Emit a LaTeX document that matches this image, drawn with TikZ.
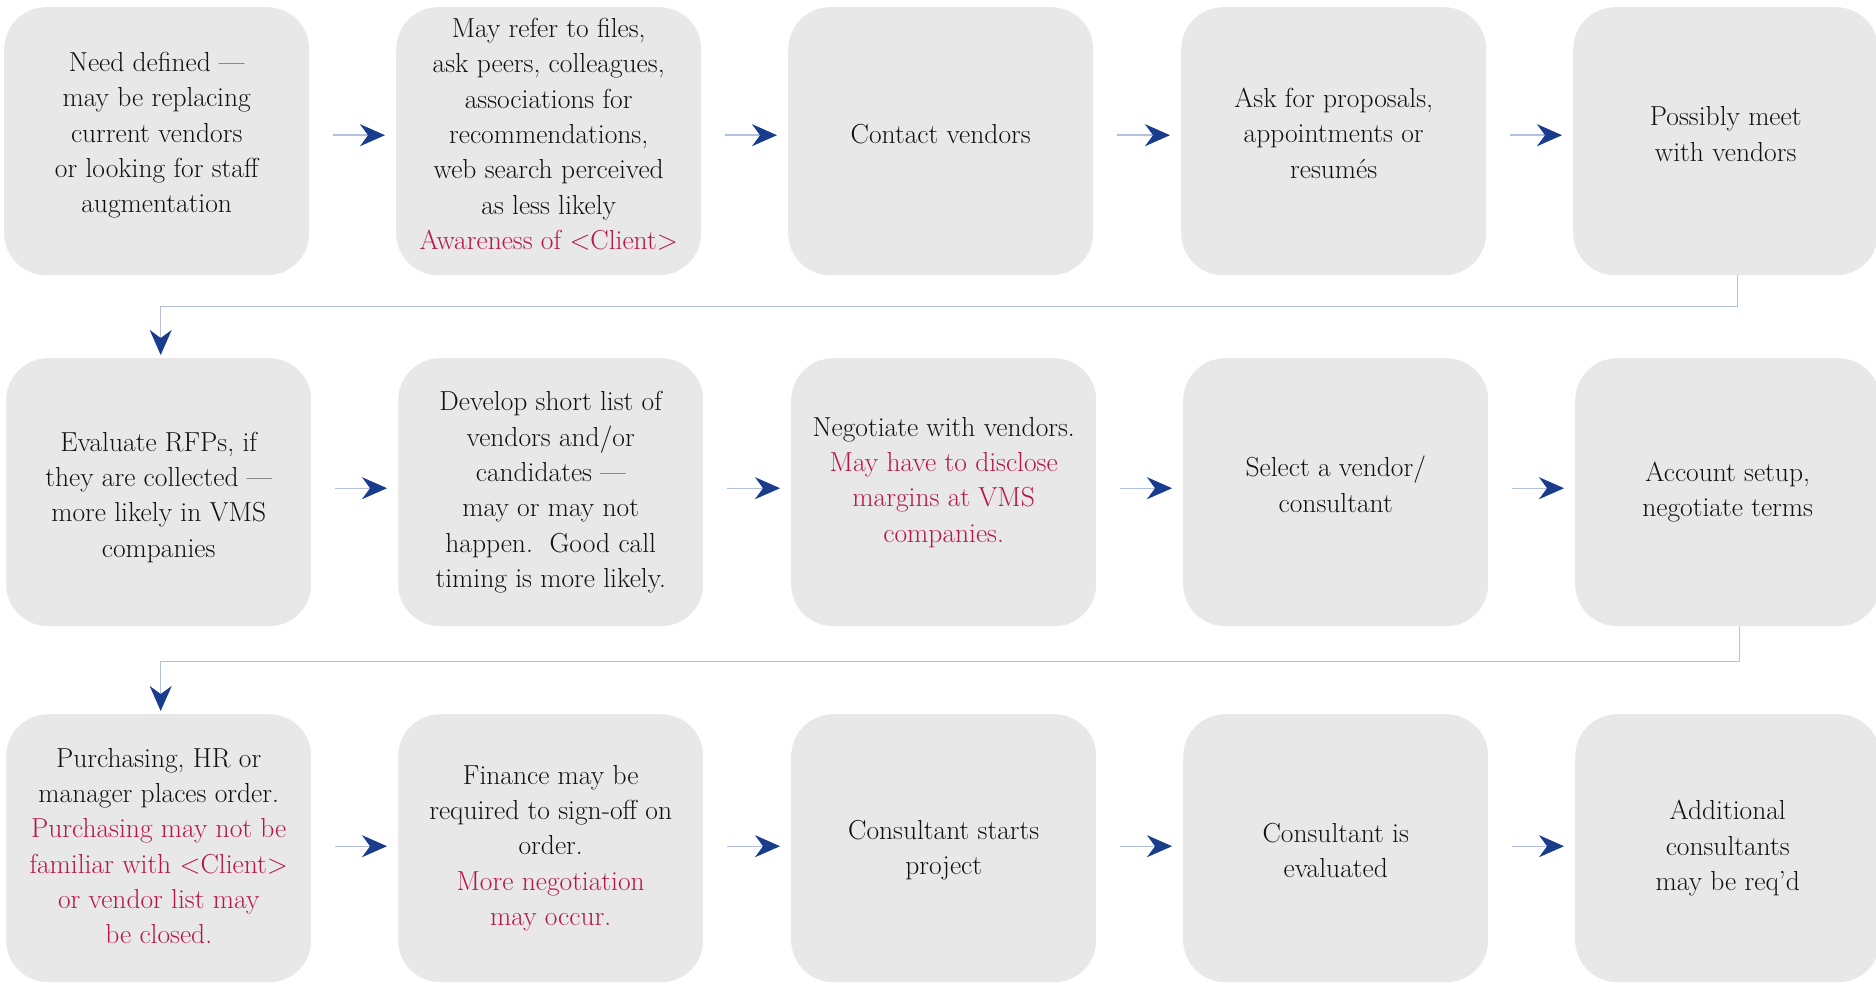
\documentclass[tikz,border=0pt]{standalone}
\usetikzlibrary{arrows.meta}
\definecolor{boxgray}{HTML}{E8E8E8}
\definecolor{accent}{HTML}{B8164A}
\definecolor{linkline}{HTML}{B4C0E0}
\definecolor{tipblue}{HTML}{1A3C8C}
\definecolor{inkdark}{HTML}{111111}
\newcommand\redtxt[1]{\textcolor{accent}{#1}}
\begin{document}
\begin{tikzpicture}[x=1pt,y=-1pt,
  stepbox/.style={rectangle, fill=boxgray, rounded corners=42pt,
    minimum width=305pt, minimum height=268pt, inner sep=0pt,
    anchor=north west},
  steptext/.style={inner sep=0pt, align=center, text=inkdark,
    font=\fontsize{27.5}{35.3}\selectfont},
  flow/.style={draw=linkline, line width=1.4pt,
    -{Stealth[length=25pt,width=22pt,inset=8pt,color=tipblue,fill=tipblue]}}]
\useasboundingbox (0,0) rectangle (1876,987);

% step boxes
\node[stepbox] (n11) at (4,7) {};
\node[stepbox] (n12) at (396,7) {};
\node[stepbox] (n13) at (788,7) {};
\node[stepbox] (n14) at (1181,7) {};
\node[stepbox] (n15) at (1573,7) {};
\node[stepbox] (n21) at (6,358) {};
\node[stepbox] (n22) at (398,358) {};
\node[stepbox] (n23) at (791,358) {};
\node[stepbox] (n24) at (1183,358) {};
\node[stepbox] (n25) at (1575,358) {};
\node[stepbox] (n31) at (6,714) {};
\node[stepbox] (n32) at (398,714) {};
\node[stepbox] (n33) at (791,714) {};
\node[stepbox] (n34) at (1183,714) {};
\node[stepbox] (n35) at (1575,714) {};

% step texts
\node[steptext] (n11t) at ([yshift=6pt]n11.center) {Need defined ---\\may be replacing\\current vendors\\or looking for staff\\augmentation};
\node[steptext] (n12t) at ([yshift=7pt]n12.center) {May refer to files,\\ask peers, colleagues,\\associations for\\recommendations,\\web search perceived\\as less likely\\\redtxt{Awareness of <Client>}};
\node[steptext] (n13t) at ([yshift=7pt]n13.center) {Contact vendors};
\node[steptext] (n14t) at ([yshift=8pt]n14.center) {Ask for proposals,\\appointments or\\resumés};
\node[steptext] (n15t) at ([yshift=7pt]n15.center) {Possibly meet\\with vendors};

\node[steptext] (n21t) at ([yshift=-5pt]n21.center) {Evaluate RFPs, if\\they are collected ---\\more likely in VMS\\companies};
\node[steptext] (n22t) at (n22.center) {Develop short list of\\vendors and/or\\candidates ---\\may or may not\\happen.\ \ Good call\\timing is more likely.};
\node[steptext] (n23t) at ([yshift=10pt]n23.center) {Negotiate with vendors.\\\redtxt{May have to disclose}\\\redtxt{margins at VMS}\\\redtxt{companies.}};
\node[steptext] (n24t) at ([yshift=8pt]n24.center) {Select a vendor/\\consultant};
\node[steptext] (n25t) at (n25.center) {Account setup,\\negotiate terms};

\node[steptext] (n31t) at ([yshift=2pt]n31.center) {Purchasing, HR or\\manager places order.\\\redtxt{Purchasing may not be}\\\redtxt{familiar with <Client>}\\\redtxt{or vendor list may}\\\redtxt{be closed.}};
\node[steptext] (n32t) at (n32.center) {Finance may be\\required to sign-off on\\order.\\\redtxt{More negotiation}\\\redtxt{may occur.}};
\node[steptext] (n33t) at ([yshift=-2pt]n33.center) {Consultant starts\\project};
\node[steptext] (n34t) at ([yshift=-2pt]n34.center) {Consultant is\\evaluated};
\node[steptext] (n35t) at (n35.center) {Additional\\consultants\\may be req'd};

% arrows along each row
\foreach \r/\s in {1/6,2/4,3/2}{
  \foreach \a/\b in {1/2,2/3,3/4,4/5}{
    \draw[flow] ([xshift=24pt,yshift=\s pt]n\r\a.east) -- ([xshift=-11pt,yshift=\s pt]n\r\b.west);
  }
}

% returns from the end of one row to the start of the next
\draw[flow] ([xshift=12pt]n15.south) -- ++(0,31) -| ([xshift=2pt,yshift=3pt]n21.north);
\draw[flow] ([xshift=12pt]n25.south) -- ++(0,35) -| ([xshift=2pt,yshift=3pt]n31.north);
\end{tikzpicture}
\end{document}
